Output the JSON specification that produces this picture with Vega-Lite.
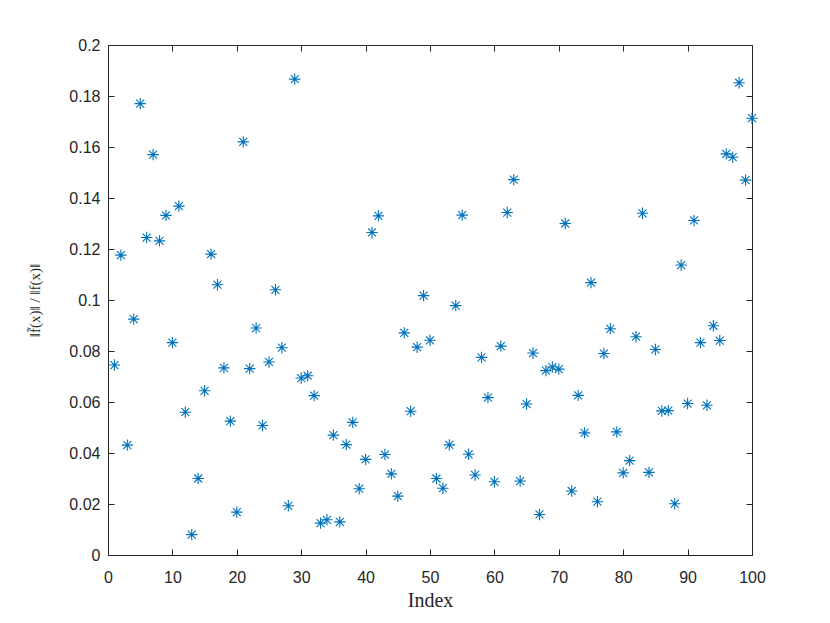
{
  "$schema": "https://vega.github.io/schema/vega-lite/v6.json",
  "autosize": "none",
  "width": 644,
  "height": 510,
  "padding": {"left": 108, "top": 45, "right": 78, "bottom": 68},
  "background": "white",
  "config": {
    "view": {"stroke": "#262626", "strokeWidth": 1},
    "axis": {"labelFont": "Liberation Sans", "labelFontSize": 16, "labelColor": "#262626", "domainColor": "#262626", "tickColor": "#262626", "tickWidth": 1, "grid": false, "titleFontWeight": "normal", "titleColor": "#262626"}
  },
  "data": {"values": [
    {"i":1,"v":0.0745},{"i":2,"v":0.1176},{"i":3,"v":0.0431},{"i":4,"v":0.0925},{"i":5,"v":0.177},
    {"i":6,"v":0.1245},{"i":7,"v":0.157},{"i":8,"v":0.1232},{"i":9,"v":0.1332},{"i":10,"v":0.0833},
    {"i":11,"v":0.1368},{"i":12,"v":0.056},{"i":13,"v":0.008},{"i":14,"v":0.030},{"i":15,"v":0.0644},
    {"i":16,"v":0.118},{"i":17,"v":0.106},{"i":18,"v":0.0734},{"i":19,"v":0.0525},{"i":20,"v":0.0168},
    {"i":21,"v":0.162},{"i":22,"v":0.0731},{"i":23,"v":0.089},{"i":24,"v":0.0508},{"i":25,"v":0.0757},
    {"i":26,"v":0.104},{"i":27,"v":0.0813},{"i":28,"v":0.0193},{"i":29,"v":0.1866},{"i":30,"v":0.0694},
    {"i":31,"v":0.0703},{"i":32,"v":0.0625},{"i":33,"v":0.0125},{"i":34,"v":0.0138},{"i":35,"v":0.047},
    {"i":36,"v":0.013},{"i":37,"v":0.0433},{"i":38,"v":0.052},{"i":39,"v":0.026},{"i":40,"v":0.0375},
    {"i":41,"v":0.1265},{"i":42,"v":0.133},{"i":43,"v":0.0394},{"i":44,"v":0.0318},{"i":45,"v":0.0231},
    {"i":46,"v":0.0871},{"i":47,"v":0.0564},{"i":48,"v":0.0815},{"i":49,"v":0.1017},{"i":50,"v":0.0842},
    {"i":51,"v":0.0300},{"i":52,"v":0.0262},{"i":53,"v":0.0432},{"i":54,"v":0.0978},{"i":55,"v":0.1333},
    {"i":56,"v":0.0395},{"i":57,"v":0.0314},{"i":58,"v":0.0775},{"i":59,"v":0.0617},{"i":60,"v":0.0287},
    {"i":61,"v":0.0819},{"i":62,"v":0.1343},{"i":63,"v":0.1472},{"i":64,"v":0.0290},{"i":65,"v":0.0592},
    {"i":66,"v":0.0792},{"i":67,"v":0.0159},{"i":68,"v":0.0723},{"i":69,"v":0.0737},{"i":70,"v":0.0729},
    {"i":71,"v":0.1300},{"i":72,"v":0.0251},{"i":73,"v":0.0626},{"i":74,"v":0.0479},{"i":75,"v":0.1068},
    {"i":76,"v":0.0209},{"i":77,"v":0.0790},{"i":78,"v":0.0887},{"i":79,"v":0.0483},{"i":80,"v":0.0322},
    {"i":81,"v":0.0370},{"i":82,"v":0.0856},{"i":83,"v":0.1340},{"i":84,"v":0.0324},{"i":85,"v":0.0806},
    {"i":86,"v":0.0565},{"i":87,"v":0.0566},{"i":88,"v":0.0201},{"i":89,"v":0.1137},{"i":90,"v":0.0594},
    {"i":91,"v":0.1312},{"i":92,"v":0.0833},{"i":93,"v":0.0587},{"i":94,"v":0.0899},{"i":95,"v":0.0841},
    {"i":96,"v":0.1573},{"i":97,"v":0.156},{"i":98,"v":0.1852},{"i":99,"v":0.147},{"i":100,"v":0.1713}
  ]},
  "layer": [
    {
      "mark": {"type": "point", "opacity": 0},
      "encoding": {
        "x": {"field": "i", "type": "quantitative", "scale": {"domain": [0, 100], "nice": false, "zero": false},
          "axis": {"orient": "top", "values": [0,10,20,30,40,50,60,70,80,90,100], "tickSize": -6, "labels": false, "title": null, "domain": false}},
        "y": {"field": "v", "type": "quantitative", "scale": {"domain": [0, 0.2], "nice": false},
          "axis": {"orient": "right", "values": [0,0.02,0.04,0.06,0.08,0.1,0.12,0.14,0.16,0.18,0.2], "tickSize": -6, "labels": false, "title": null, "domain": false}}
      }
    },
    {
      "mark": {
        "type": "point",
        "shape": "M-1,0L1,0M0,-1L0,1M-0.7,-0.7L0.7,0.7M-0.7,0.7L0.7,-0.7",
        "filled": false,
        "stroke": "#0072BD",
        "strokeWidth": 1.1,
        "size": 130,
        "opacity": 1,
        "clip": false
      },
      "encoding": {
        "x": {
          "field": "i", "type": "quantitative",
          "scale": {"domain": [0, 100], "nice": false, "zero": false},
          "axis": {"orient": "bottom", "values": [0,10,20,30,40,50,60,70,80,90,100], "tickSize": -6, "labelPadding": 20, "title": "Index", "titleFont": "Liberation Serif", "titleFontSize": 20, "titlePadding": 5, "labelFlush": false}
        },
        "y": {
          "field": "v", "type": "quantitative",
          "scale": {"domain": [0, 0.2], "nice": false},
          "axis": {"orient": "left", "values": [0,0.02,0.04,0.06,0.08,0.1,0.12,0.14,0.16,0.18,0.2], "format": "~g", "tickSize": -6, "labelPadding": 14, "title": "‖f̃(x)‖ / ‖f(x)‖", "titleFont": "Liberation Serif", "titleFontSize": 15, "titlePadding": 26, "labelFlush": false}
        }
      }
    }
  ],
  "resolve": {"axis": {"x": "independent", "y": "independent"}}
}
